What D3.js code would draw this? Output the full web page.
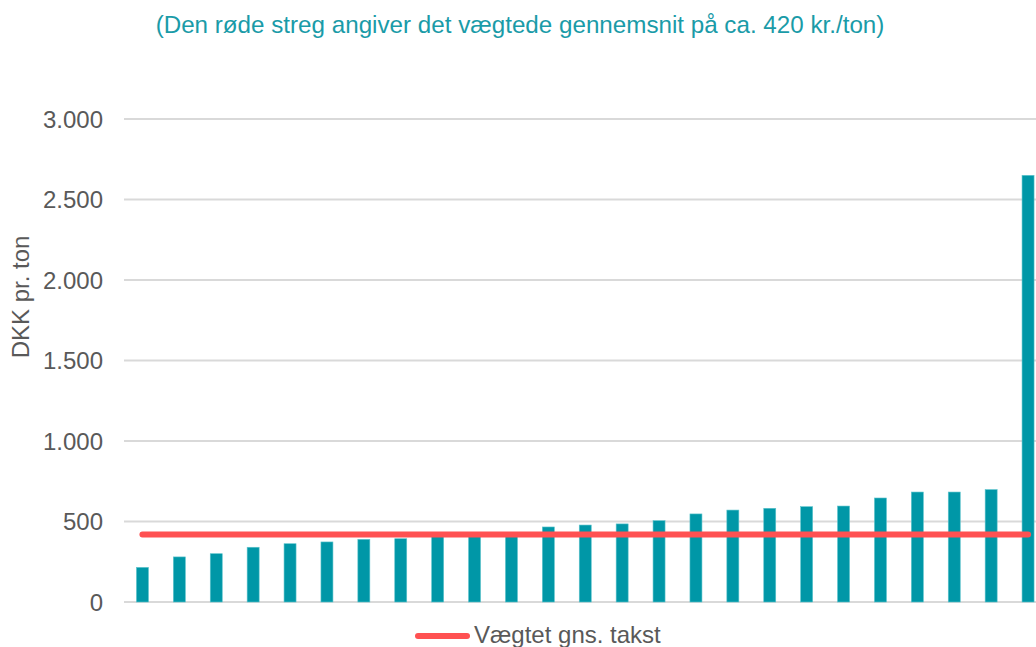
<!DOCTYPE html>
<html><head><meta charset="utf-8">
<script src="https://cdn.jsdelivr.net/npm/d3@7"></script>
<style>
html,body{margin:0;padding:0;background:#fff;overflow:hidden;}
text{font-family:"Liberation Sans",Arial,sans-serif;}
</style></head>
<body>
<svg id="c" width="1036" height="647"></svg>
<script>
const categories = d3.range(1, 26).map(i => "K" + i);
const values = [215, 280, 300, 340, 362, 373, 389, 393, 410, 415, 420, 466, 478, 485, 505, 547, 571, 582, 592, 596, 646, 683, 683, 698, 2650];
const average = 420;
const yTicks = [0, 500, 1000, 1500, 2000, 2500, 3000];
const titleText = "(Den røde streg angiver det vægtede gennemsnit på ca. 420 kr./ton)";
const yLabel = "DKK pr. ton";
const legendLabel = "Vægtet gns. takst";

const teal = "#0097A7", red = "#FF5152", grid = "#D9D9D9", txt = "#595959";
const svg = d3.select("#c");

const x = d3.scaleBand().domain(categories).range([124, 1046.5]).paddingInner(0.675).paddingOuter(0.3375);
const y = d3.scaleLinear().domain([0, 3000]).range([602, 119]);

// y axis labels
const yAxis = d3.axisLeft(y).tickValues(yTicks).tickSize(0).tickPadding(0)
  .tickFormat(d => d3.format(",")(d).replace(/,/g, "."));
const g = svg.append("g").attr("transform", "translate(103,0)").call(yAxis);
g.select(".domain").remove();
g.selectAll("text").attr("fill", txt).style("font-size", "24px").attr("x", 0).attr("dy", "0.35em");

// gridlines
svg.append("g").selectAll("line").data(yTicks).join("line")
  .attr("x1", 124).attr("x2", 1036)
  .attr("y1", d => y(d)).attr("y2", d => y(d))
  .attr("stroke", grid).attr("stroke-width", 2);

// bars
svg.append("g").selectAll("rect").data(values).join("rect")
  .attr("x", (d, i) => x(categories[i]))
  .attr("width", x.bandwidth())
  .attr("y", d => y(d))
  .attr("height", d => y(0) - y(d))
  .attr("fill", teal)
  .attr("stroke", "#5cc3cc").attr("stroke-width", 0.6);

// average line
const line = d3.line().x(d => x(d) + x.bandwidth() / 2).y(() => y(average));
svg.append("path").datum(categories).attr("d", line)
  .attr("fill", "none").attr("stroke", red).attr("stroke-width", 6).attr("stroke-linecap", "round");

// title
svg.append("text").attr("x", 520).attr("y", 33).attr("text-anchor", "middle")
  .attr("fill", "#1A9BA8").style("font-size", "24.2px").text(titleText);

// y label
svg.append("text").attr("transform", "translate(29,297) rotate(-90)").attr("text-anchor", "middle")
  .attr("fill", txt).style("font-size", "24px").text(yLabel);

// legend
svg.append("line").attr("x1", 418).attr("x2", 467).attr("y1", 636).attr("y2", 636)
  .attr("stroke", red).attr("stroke-width", 6).attr("stroke-linecap", "round");
svg.append("text").attr("x", 474).attr("y", 643).attr("fill", txt).style("font-size", "24px").text(legendLabel);
</script>
</body></html>
